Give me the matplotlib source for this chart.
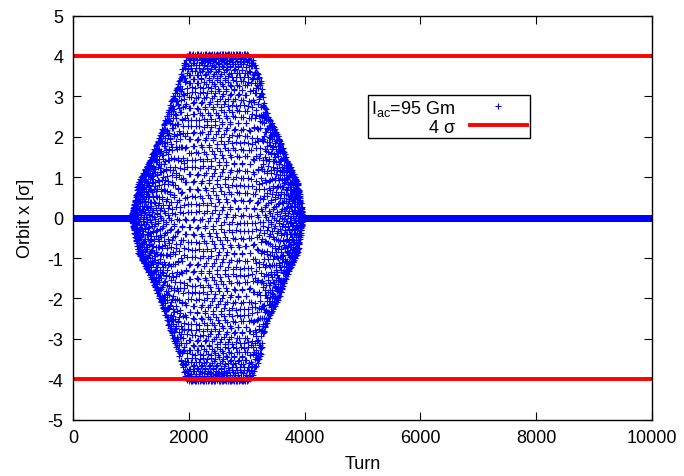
import numpy as np
import matplotlib
matplotlib.use("Agg")
from matplotlib import pyplot as plt

# AC dipole excitation: envelope (turn, amplitude in sigma)
env_turn = [0, 1000, 1014, 1128, 1330, 1474, 1618, 1705, 1820, 1952, 2000,
            3000, 3086, 3259, 3276, 3373, 3575, 3690, 3886, 3972, 4000, 10000]
env_amp = [0, 0, 0.03, 0.86, 1.44, 1.93, 2.51, 2.92, 3.33, 4.0, 4.05,
           4.05, 3.98, 3.33, 2.92, 2.51, 1.93, 1.44, 0.86, 0.03, 0, 0]
drive_tune = 0.3037
n_turns = 10000
limit_sigma = 4

plt.rcParams['font.family'] = ['Liberation Sans', 'DejaVu Sans']
plt.rcParams['mathtext.fontset'] = 'custom'
plt.rcParams['mathtext.rm'] = 'Liberation Sans'
plt.rcParams['font.size'] = 13
plt.rcParams['axes.unicode_minus'] = False

turn = np.arange(0, n_turns + 1)
amp = np.interp(turn, env_turn, env_amp)
orbit = amp * np.cos(2 * np.pi * drive_tune * turn)

fig = plt.figure(figsize=(6.84, 4.77), dpi=100)
ax = fig.add_axes([73 / 684, 1 - 420.6 / 477, (652 - 73) / 684, (420.6 - 16.6) / 477])

ax.plot(turn, orbit, '+', color='#0000ff', ms=3.8, mew=0.8, label=r'I$_{\mathrm{ac}}$=95 Gm')
ax.axhline(limit_sigma, color='#ff0000', lw=2.8, label='4 σ')
ax.axhline(-limit_sigma, color='#ff0000', lw=2.8)

ax.set_xlim(0, 10000)
ax.set_ylim(-5, 5)
ax.set_xticks(range(0, 10001, 2000))
ax.set_yticks(range(-5, 6))
ax.tick_params(direction='in', length=6, width=0.8, top=True, right=True, pad=7)
for s in ax.spines.values():
    s.set_linewidth(1.0)
ax.set_xlabel('Turn', labelpad=6)
ax.set_ylabel('Orbit x [σ]', labelpad=10)

leg = ax.legend(loc='upper right', bbox_to_anchor=(530 / 684, 1 - 96 / 477),
                bbox_transform=fig.transFigure, markerfirst=False, fancybox=False,
                framealpha=1, edgecolor='black', borderaxespad=0, borderpad=0.15,
                handlelength=3.2, labelspacing=0.05, handletextpad=0.8, fontsize=13)
leg.get_frame().set_linewidth(1.0)
leg.legend_handles[0].set_markersize(4)

fig.savefig('out.png')
